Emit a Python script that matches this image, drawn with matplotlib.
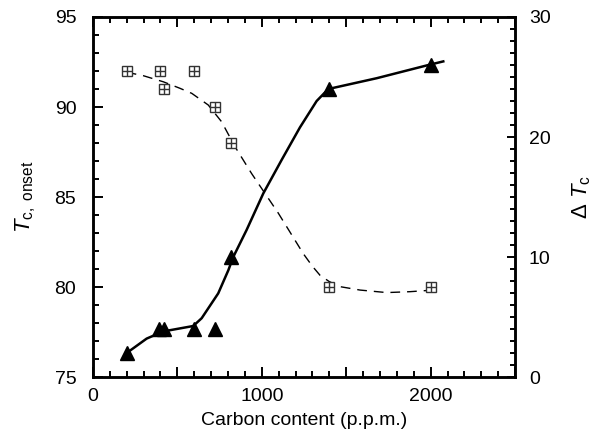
import matplotlib
matplotlib.use("Agg")
import matplotlib.pyplot as plt
from matplotlib.ticker import MultipleLocator, FuncFormatter

plt.rcParams['font.family'] = ['Liberation Sans', 'DejaVu Sans']
plt.rcParams['mathtext.fontset'] = 'custom'
plt.rcParams['mathtext.rm'] = 'Liberation Sans'
plt.rcParams['mathtext.it'] = 'Liberation Sans:italic'

# Tc,onset (left axis) - open squares with cross
sq_x = [200, 400, 420, 600, 720, 815, 1400, 2000]
sq_y = [92, 92, 91, 92, 90, 88, 80, 80]
# Delta Tc (right axis) - filled triangles
tri_x = [200, 390, 420, 600, 720, 820, 1400, 2000]
tri_y = [2, 4, 4, 4, 4, 10, 24, 26]

# guide curves
dash_x = [200, 298, 417, 515, 585, 683, 762, 841, 940, 1019, 1098, 1177, 1246, 1300, 1345, 1400, 1463, 1582, 1740, 1878, 2016]
dash_y = [91.93, 91.74, 91.4, 91.04, 90.76, 90.11, 89.18, 87.8, 86.3, 85.2, 84.1, 82.9, 81.85, 81.15, 80.65, 80.3, 80.02, 79.83, 79.69, 79.74, 79.83]
solid_x = [200, 318, 417, 594, 644, 742, 802, 831, 910, 1009, 1118, 1226, 1325, 1394, 1681, 1987, 2075]
solid_y = [2.0, 3.2, 3.8, 4.25, 4.9, 6.97, 8.9, 10.0, 12.25, 15.3, 18.1, 20.8, 23.0, 24.0, 24.9, 26.0, 26.3]

x_ticklabels = {0: '0', 1000: '1000', 2000: '2000'}

fig = plt.figure(figsize=(5.92, 4.45), dpi=100)
ax = fig.add_axes([0.157, 0.1528, 0.713, 0.809])
ax2 = ax.twinx()

ax.plot(dash_x, dash_y, color='black', lw=1.0, linestyle=(0, (7, 5)), zorder=2)
ax.plot(sq_x, sq_y, linestyle='none', marker='s', ms=7.5, mfc='white', mec='#333333', mew=1.0, zorder=3)
ax.plot(sq_x, sq_y, linestyle='none', marker='+', ms=7.5, mec='#333333', mew=1.0, zorder=4)

ax2.plot(solid_x, solid_y, color='black', lw=1.8, zorder=2)
ax2.plot(tri_x, tri_y, linestyle='none', marker='^', ms=9.5, color='black', zorder=3)

ax.set_xlim(0, 2500)
ax.set_ylim(75, 95)
ax2.set_ylim(0, 30)

ax.xaxis.set_major_locator(MultipleLocator(500))
ax.xaxis.set_minor_locator(MultipleLocator(100))
ax.xaxis.set_major_formatter(FuncFormatter(lambda v, p: x_ticklabels.get(int(round(v)), '')))
ax.yaxis.set_major_locator(MultipleLocator(5))
ax.yaxis.set_minor_locator(MultipleLocator(1))
ax2.yaxis.set_major_locator(MultipleLocator(10))
ax2.yaxis.set_minor_locator(MultipleLocator(1))

for a in (ax, ax2):
    for s in a.spines.values():
        s.set_linewidth(1.8)

ax.tick_params(axis='x', which='both', direction='in', top=True, bottom=True, labelsize=14, pad=8)
ax.tick_params(axis='x', which='major', length=7.5, width=1.4)
ax.tick_params(axis='x', which='minor', length=4, width=1.4)
ax.tick_params(axis='y', which='both', direction='in', left=True, right=False, labelsize=14, pad=12)
ax.tick_params(axis='y', which='major', length=7.5, width=1.4)
ax.tick_params(axis='y', which='minor', length=4, width=1.4)
ax2.tick_params(axis='y', which='both', direction='in', right=True, labelsize=14, pad=10)
ax2.tick_params(axis='y', which='major', length=6, width=1.4)
ax2.tick_params(axis='y', which='minor', length=3.5, width=1.4)

ax.set_xlabel('Carbon content (p.p.m.)', fontsize=14, labelpad=5)
ax.set_ylabel(r'$T_{\mathrm{c,\ onset}}$', fontsize=16, labelpad=12)
ax2.set_ylabel(r'$\Delta\ T_{\mathrm{c}}$', fontsize=16, labelpad=14)

fig.savefig('out.png', dpi=100)
